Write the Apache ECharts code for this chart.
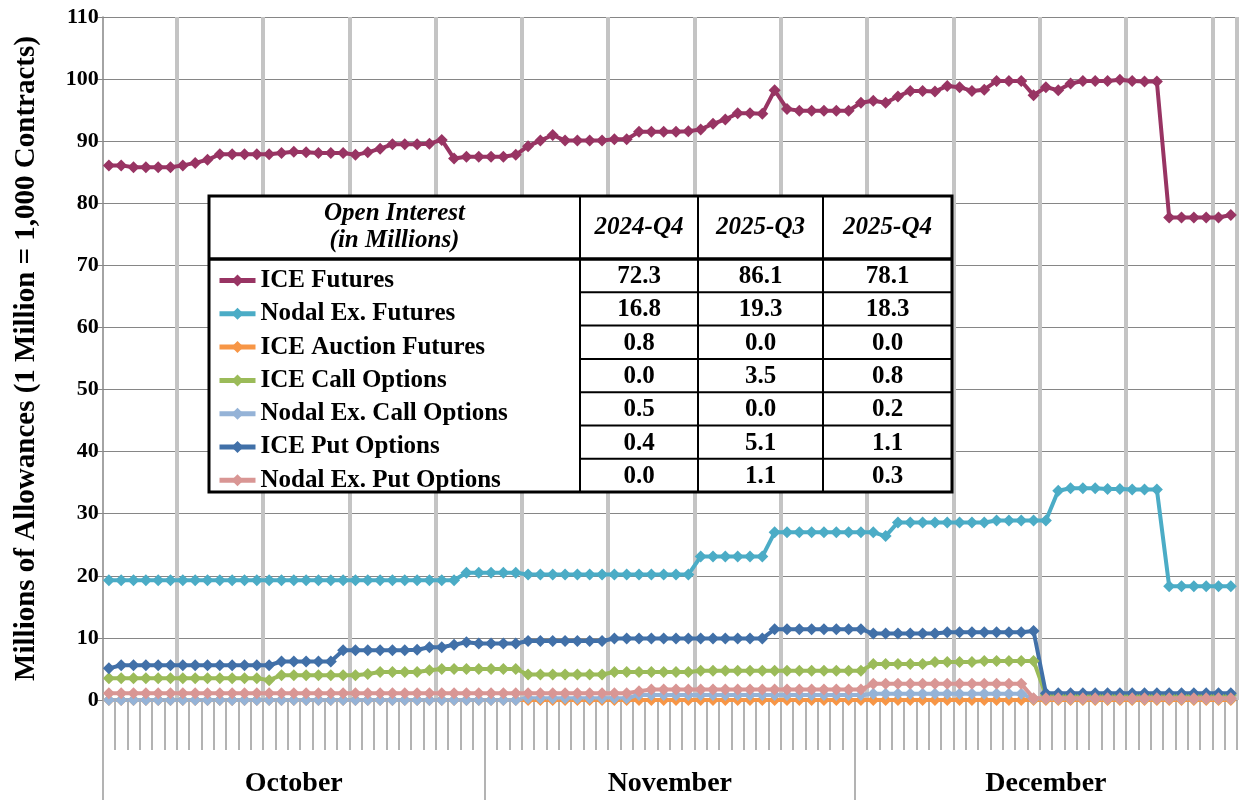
<!DOCTYPE html>
<html>
<head>
<meta charset="utf-8">
<title>Open Interest</title>
<script src="https://cdn.jsdelivr.net/npm/echarts@6/dist/echarts.min.js"></script>
<style>
html, body { margin: 0; padding: 0; background: #fff; }
#chart { width: 1239px; height: 800px; }
</style>
</head>
<body>
<div id="chart"></div>
<script>
// months on the lower axis, one category per calendar day
const months = ['October', 'November', 'December'];
const monthDays = [31, 30, 31];
const days = [];
months.forEach((m, i) => {
	for (let d = 1; d <= monthDays[i]; d++) days.push(m.slice(0, 3) + ' ' + d);
});

const seriesNames = ['ICE Futures', 'Nodal Ex. Futures', 'ICE Auction Futures', 'ICE Call Options',
	'Nodal Ex. Call Options', 'ICE Put Options', 'Nodal Ex. Put Options'];

const iceFutures = [86.1, 86.1, 85.8, 85.8, 85.8, 85.8, 86.1, 86.5, 87.0, 87.9, 87.9, 87.9, 87.9, 87.9, 88.1, 88.3,
	88.2, 88.1, 88.1, 88.1, 87.8, 88.2, 88.8, 89.5, 89.5, 89.5, 89.6, 90.2, 87.2, 87.5, 87.5,
	87.5, 87.5, 87.8, 89.2, 90.1, 91.0, 90.1, 90.1, 90.1, 90.1, 90.3, 90.3, 91.5, 91.5, 91.5, 91.5,
	91.6, 91.9, 92.8, 93.5, 94.5, 94.5, 94.4, 98.2, 95.2, 94.9, 94.9, 94.9, 94.9, 94.9,
	96.2, 96.5, 96.2, 97.2, 98.1, 98.1, 98.0, 98.9, 98.7, 98.1, 98.3, 99.7, 99.7, 99.7, 97.4, 98.7,
	98.2, 99.3, 99.7, 99.7, 99.7, 99.9, 99.7, 99.6, 99.6, 77.7, 77.7, 77.7, 77.7, 77.7, 78.1];
const nodalFutures = [19.3, 19.3, 19.3, 19.3, 19.3, 19.3, 19.3, 19.3, 19.3, 19.3, 19.3, 19.3, 19.3, 19.3, 19.3, 19.3,
	19.3, 19.3, 19.3, 19.3, 19.3, 19.3, 19.3, 19.3, 19.3, 19.3, 19.3, 19.3, 19.3, 20.5, 20.5,
	20.5, 20.5, 20.5, 20.2, 20.2, 20.2, 20.2, 20.2, 20.2, 20.2, 20.2, 20.2, 20.2, 20.2, 20.2, 20.2,
	20.2, 23.1, 23.1, 23.1, 23.1, 23.1, 23.1, 27.0, 27.0, 27.0, 27.0, 27.0, 27.0, 27.0,
	27.0, 27.0, 26.4, 28.6, 28.6, 28.6, 28.6, 28.6, 28.6, 28.6, 28.6, 28.9, 28.9, 28.9, 28.9, 28.9,
	33.7, 34.1, 34.1, 34.1, 34.0, 34.0, 33.9, 33.9, 33.9, 18.3, 18.3, 18.3, 18.3, 18.3, 18.3];
const iceAuction = [0, 0, 0, 0, 0, 0, 0, 0, 0, 0, 0, 0, 0, 0, 0, 0,
	0, 0, 0, 0, 0, 0, 0, 0, 0, 0, 0, 0, 0, 0, 0,
	0, 0, 0, 0, 0, 0, 0, 0, 0, 0, 0, 0, 0, 0, 0, 0,
	0, 0, 0, 0, 0, 0, 0, 0, 0, 0, 0, 0, 0, 0,
	0, 0, 0, 0, 0, 0, 0, 0, 0, 0, 0, 0, 0, 0, 0, 0,
	0, 0, 0, 0, 0, 0, 0, 0, 0, 0, 0, 0, 0, 0, 0];
const iceCall = [3.5, 3.5, 3.5, 3.5, 3.5, 3.5, 3.5, 3.5, 3.5, 3.5, 3.5, 3.5, 3.5, 3.2, 4.0, 4.0,
	4.0, 4.0, 4.0, 4.0, 4.0, 4.2, 4.5, 4.5, 4.5, 4.5, 4.8, 5.0, 5.0, 5.0, 5.0,
	5.0, 5.0, 5.0, 4.1, 4.1, 4.1, 4.1, 4.1, 4.1, 4.1, 4.5, 4.5, 4.5, 4.5, 4.5, 4.5,
	4.5, 4.7, 4.7, 4.7, 4.7, 4.7, 4.7, 4.7, 4.7, 4.7, 4.7, 4.7, 4.7, 4.7,
	4.7, 5.8, 5.8, 5.8, 5.8, 5.8, 6.1, 6.1, 6.1, 6.1, 6.3, 6.3, 6.3, 6.3, 6.3, 0.8,
	0.8, 0.8, 0.8, 0.8, 0.8, 0.8, 0.8, 0.8, 0.8, 0.8, 0.8, 0.8, 0.8, 0.8, 0.8];
const nodalCall = [0, 0, 0, 0, 0, 0, 0, 0, 0, 0, 0, 0, 0, 0, 0, 0,
	0, 0, 0, 0, 0, 0, 0, 0, 0, 0, 0, 0, 0, 0, 0,
	0, 0, 0, 0.3, 0.3, 0.3, 0.3, 0.3, 0.3, 0.3, 0.3, 0.3, 0.8, 0.8, 0.8, 0.8,
	0.8, 0.8, 0.8, 0.8, 0.8, 0.8, 0.8, 0.8, 0.8, 0.8, 0.8, 0.8, 0.8, 0.8,
	0.8, 1.0, 1.0, 1.0, 1.0, 1.0, 1.0, 1.0, 1.0, 1.0, 1.0, 1.0, 1.0, 1.0, 0.2, 0.2,
	0.2, 0.2, 0.2, 0.2, 0.2, 0.2, 0.2, 0.2, 0.2, 0.2, 0.2, 0.2, 0.2, 0.2, 0.2];
const icePut = [5.1, 5.6, 5.6, 5.6, 5.6, 5.6, 5.6, 5.6, 5.6, 5.6, 5.6, 5.6, 5.6, 5.6, 6.2, 6.2,
	6.2, 6.2, 6.2, 8.0, 8.0, 8.0, 8.0, 8.0, 8.0, 8.1, 8.5, 8.5, 8.9, 9.3, 9.1,
	9.1, 9.1, 9.1, 9.5, 9.5, 9.5, 9.5, 9.5, 9.5, 9.5, 9.9, 9.9, 9.9, 9.9, 9.9, 9.9,
	9.9, 9.9, 9.9, 9.9, 9.9, 9.9, 9.9, 11.4, 11.4, 11.4, 11.4, 11.4, 11.4, 11.4,
	11.4, 10.7, 10.7, 10.7, 10.7, 10.7, 10.7, 10.9, 10.9, 10.9, 10.9, 10.9, 10.9, 10.9, 11.1, 1.1,
	1.1, 1.1, 1.1, 1.1, 1.1, 1.1, 1.1, 1.1, 1.1, 1.1, 1.1, 1.1, 1.1, 1.1, 1.1];
const nodalPut = [1.1, 1.1, 1.1, 1.1, 1.1, 1.1, 1.1, 1.1, 1.1, 1.1, 1.1, 1.1, 1.1, 1.1, 1.1, 1.1,
	1.1, 1.1, 1.1, 1.1, 1.1, 1.1, 1.1, 1.1, 1.1, 1.1, 1.1, 1.1, 1.1, 1.1, 1.1,
	1.1, 1.1, 1.1, 1.1, 1.1, 1.1, 1.1, 1.1, 1.1, 1.1, 1.1, 1.1, 1.4, 1.7, 1.7, 1.7,
	1.7, 1.7, 1.7, 1.7, 1.7, 1.7, 1.7, 1.7, 1.7, 1.7, 1.7, 1.7, 1.7, 1.7,
	1.7, 2.6, 2.6, 2.6, 2.6, 2.6, 2.6, 2.6, 2.6, 2.6, 2.6, 2.6, 2.6, 2.6, 0.3, 0.3,
	0.3, 0.3, 0.3, 0.3, 0.3, 0.3, 0.3, 0.3, 0.3, 0.3, 0.3, 0.3, 0.3, 0.3, 0.3];

// open interest summary table
const tableCols = ['2024-Q4', '2025-Q3', '2025-Q4'];
const oi2024Q4 = [72.3, 16.8, 0.8, 0.0, 0.5, 0.4, 0.0];
const oi2025Q3 = [86.1, 19.3, 0.0, 3.5, 0.0, 5.1, 1.1];
const oi2025Q4 = [78.1, 18.3, 0.0, 0.8, 0.2, 1.1, 0.3];

const allSeries = [iceFutures, nodalFutures, iceAuction, iceCall, nodalCall, icePut, nodalPut];
const colors = ['#983463', '#4bacc6', '#f79646', '#9bbb59', '#95b3d7', '#4170a8', '#d99694'];
const font = "'Liberation Serif', 'Times New Roman', serif";

// month separators and label spots, in day units
const monthEdges = [0];
monthDays.forEach(n => monthEdges.push(monthEdges[monthEdges.length - 1] + n));
const monthMids = months.map((m, i) => (monthEdges[i] + monthEdges[i + 1]) / 2);

let chart = echarts.init(document.getElementById('chart'));

// table drawn as graphic on top of the plot
const tb = { left: 209, top: 196, cols: [209, 580, 698, 823, 952], headH: 63, rowH: 33.3 };
const tableBottom = tb.top + tb.headH + tb.rowH * seriesNames.length;
let els = [];
els.push({
	type: 'rect', z: 100,
	shape: { x: tb.left, y: tb.top, width: tb.cols[4] - tb.left, height: tableBottom - tb.top },
	style: { fill: '#fff', stroke: '#000', lineWidth: 3 }
});
els.push({
	type: 'line', z: 101,
	shape: { x1: tb.left, y1: tb.top + tb.headH, x2: tb.cols[4], y2: tb.top + tb.headH },
	style: { stroke: '#000', lineWidth: 3.5 }
});
for (let c = 1; c < 4; c++) {
	els.push({
		type: 'line', z: 101,
		shape: { x1: tb.cols[c], y1: tb.top, x2: tb.cols[c], y2: tableBottom },
		style: { stroke: '#000', lineWidth: 2 }
	});
}
for (let r = 1; r < seriesNames.length; r++) {
	let y = tb.top + tb.headH + tb.rowH * r;
	els.push({
		type: 'line', z: 101,
		shape: { x1: tb.cols[1], y1: y, x2: tb.cols[4], y2: y },
		style: { stroke: '#000', lineWidth: 2 }
	});
}
const hdrStyle = { fill: '#000', font: 'italic bold 25px ' + font, align: 'center', verticalAlign: 'middle' };
els.push({ type: 'text', z: 102, x: (tb.cols[0] + tb.cols[1]) / 2, y: tb.top + 18, style: Object.assign({ text: 'Open Interest' }, hdrStyle) });
els.push({ type: 'text', z: 102, x: (tb.cols[0] + tb.cols[1]) / 2, y: tb.top + 45, style: Object.assign({ text: '(in Millions)' }, hdrStyle) });
const colVals = [oi2024Q4, oi2025Q3, oi2025Q4];
tableCols.forEach((name, c) => {
	let cx = (tb.cols[c + 1] + tb.cols[c + 2]) / 2;
	els.push({ type: 'text', z: 102, x: cx, y: tb.top + tb.headH / 2, style: Object.assign({ text: name }, hdrStyle) });
	colVals[c].forEach((v, r) => {
		els.push({
			type: 'text', z: 102, x: cx, y: tb.top + tb.headH + tb.rowH * (r + 0.5) + 1,
			style: { text: v.toFixed(1), fill: '#000', font: 'bold 25px ' + font, align: 'center', verticalAlign: 'middle' }
		});
	});
});

let option = {
	animation: false,
	grid: { left: 102.7, right: 2, top: 17, bottom: 100, containLabel: false },
	legend: {
		data: seriesNames,
		orient: 'vertical',
		left: 212,
		top: tb.top + tb.headH + 3.5,
		itemWidth: 36,
		itemHeight: 15,
		itemGap: 7.3,
		selectedMode: false,
		z: 120,
		lineStyle: { width: 5 },
		textStyle: { fontFamily: font, fontWeight: 'bold', fontSize: 25, lineHeight: 26, color: '#000' }
	},
	xAxis: [{
		type: 'category',
		data: days,
		boundaryGap: true,
		axisLine: { show: true, lineStyle: { color: '#868686', width: 1.2 } },
		axisTick: { show: true, interval: 0, length: 50, lineStyle: { color: '#9a9a9a', width: 1.5 } },
		axisLabel: { show: false },
		splitLine: {
			show: true,
			interval: (index) => index % 7 === 6,
			lineStyle: { color: '#c4c4c4', width: 4 }
		}
	}, {
		type: 'value',
		min: 0,
		max: monthEdges[monthEdges.length - 1],
		position: 'bottom',
		axisLine: { show: false },
		splitLine: { show: false },
		axisTick: { show: true, customValues: monthEdges.slice(0, -1), length: 100, lineStyle: { color: '#9a9a9a', width: 1.5 } },
		axisLabel: {
			customValues: monthMids,
			formatter: (v) => months[monthMids.indexOf(v)],
			margin: 70,
			fontFamily: font, fontWeight: 'bold', fontSize: 28, color: '#000'
		}
	}],
	yAxis: {
		type: 'value',
		min: 0,
		max: 110,
		interval: 10,
		name: 'Millions of Allowances (1 Million = 1,000 Contracts)',
		nameLocation: 'middle',
		nameGap: 62,
		nameTextStyle: { fontFamily: font, fontWeight: 'bold', fontSize: 29, color: '#000' },
		axisLine: { show: true, lineStyle: { color: '#868686', width: 1.5 } },
		axisTick: { show: true, length: 6, lineStyle: { color: '#868686' } },
		axisLabel: { fontFamily: font, fontWeight: 'bold', fontSize: 22, color: '#000', margin: 4 },
		splitLine: { lineStyle: { color: '#868686', width: 1.2 } }
	},
	series: seriesNames.map((name, i) => ({
		name: name,
		type: 'line',
		data: allSeries[i],
		symbol: 'diamond',
		symbolSize: 12,
		showAllSymbol: true,
		color: colors[i],
		lineStyle: { width: 4 },
		emphasis: { disabled: true }
	})),
	graphic: { elements: els }
};
chart.setOption(option);
</script>
</body>
</html>
